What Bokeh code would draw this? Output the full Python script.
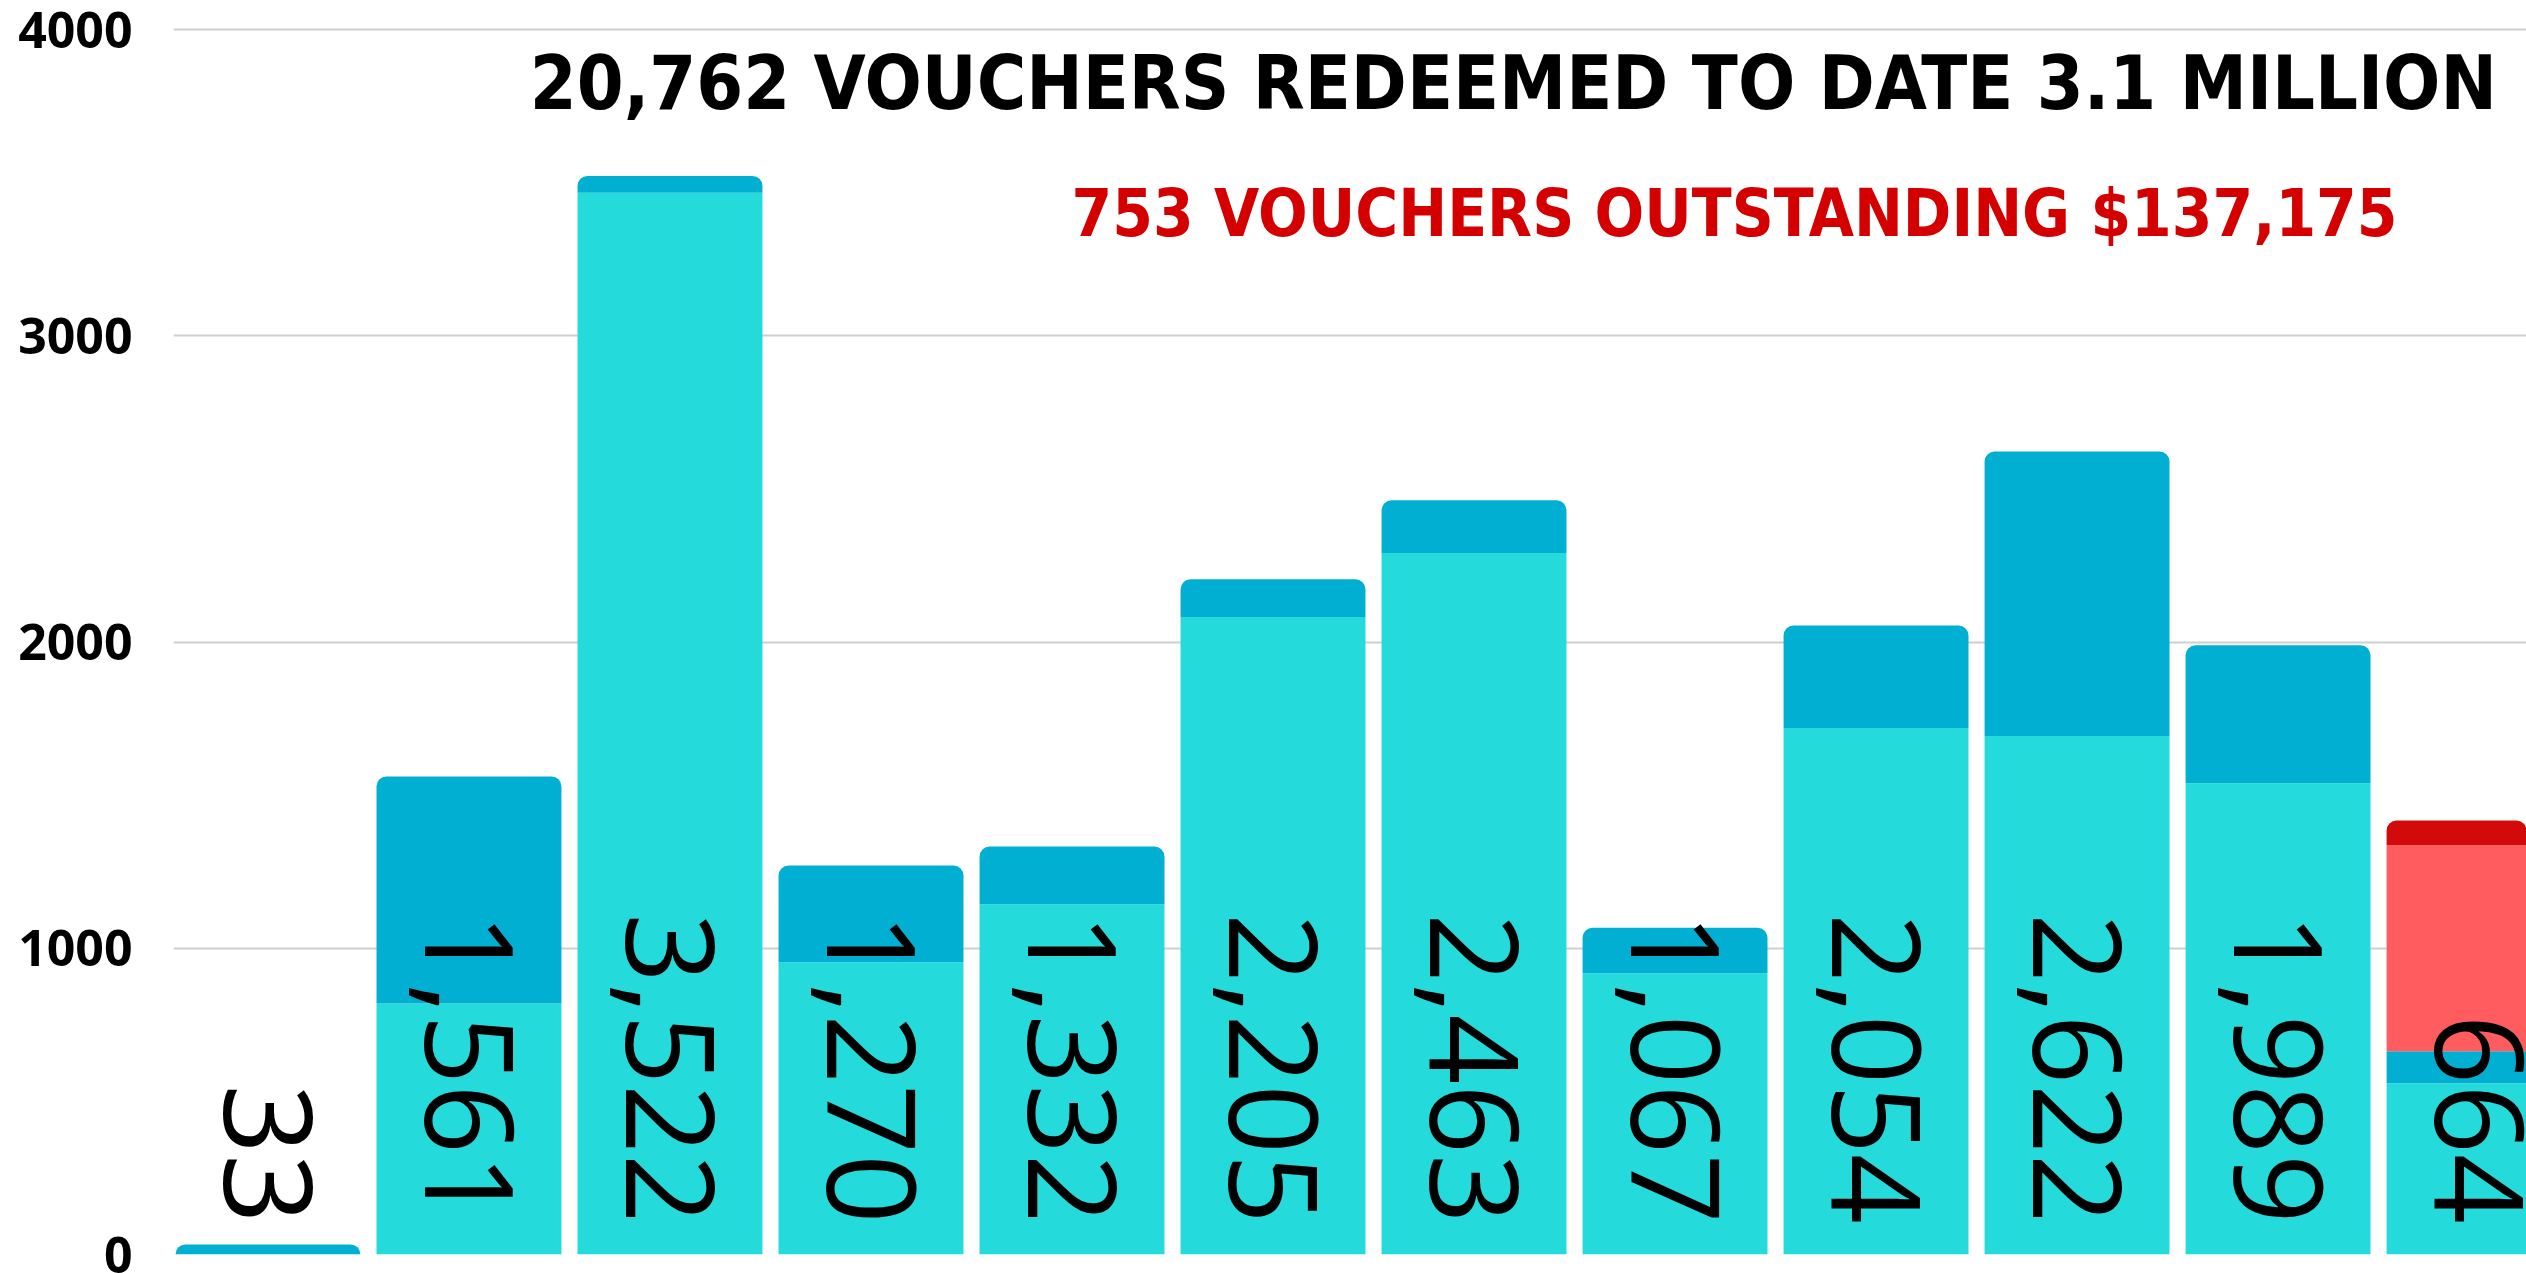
from bokeh.plotting import figure
from bokeh.models import ColumnDataSource, Label, FixedTicker
from bokeh.core.properties import value
from bokeh.embed import file_html
from bokeh.resources import INLINE

# ---- data ----
totals = [33, 1561, 3522, 1270, 1332, 2205, 2463, 1067, 2054, 2622, 1989, 664]
lower_part = [0, 820, 3467, 954, 1144, 2082, 2291, 918, 1719, 1693, 1539, 559]
outstanding = [0, 0, 0, 0, 0, 0, 0, 0, 0, 0, 0, 753]
outstanding_cap = [0, 0, 0, 0, 0, 0, 0, 0, 0, 0, 0, 80]
y_ticks = [0, 1000, 2000, 3000, 4000]
title_text = "20,762 VOUCHERS REDEEMED  TO DATE 3.1 MILLION"
subtitle_text = "753 VOUCHERS OUTSTANDING $137,175"

n = len(totals)
xs = list(range(n))

CYAN = "#25dada"
BLUE = "#00afd1"
LRED = "#ff5c60"
DRED = "#d20a0a"

p = figure(width=2526, height=1273, output_backend="svg", toolbar_location=None,
           x_range=(-0.47, 11.236), y_range=(0, 4094.7),
           x_axis_location=None, min_border_left=173, min_border_right=0,
           min_border_top=0, min_border_bottom=19)
p.outline_line_color = None
p.background_fill_color = "white"
p.xgrid.grid_line_color = None
p.ygrid.grid_line_color = "#cfcfcf"
p.ygrid.grid_line_width = 2

ax = p.yaxis[0]
ax.ticker = FixedTicker(ticks=y_ticks)
ax.axis_line_color = None
ax.major_tick_line_color = None
ax.minor_tick_line_color = None
ax.major_tick_out = 0
ax.major_tick_in = 0
ax.major_label_standoff = 41
ax.major_label_text_font = "Open Sans"
ax.major_label_text_font_style = "bold"
ax.major_label_text_font_size = "50px"
ax.major_label_text_color = "black"

W = 0.92

# light cyan lower segments
src_low = ColumnDataSource(dict(x=xs, top=lower_part))
p.vbar(x="x", top="top", bottom=0, width=W, source=src_low,
       fill_color=CYAN, line_color=None)

# darker blue upper segments (rounded when they are the top of the bar)
top_idx = [i for i in xs if outstanding[i] == 0]
mid_idx = [i for i in xs if outstanding[i] > 0]
src_up = ColumnDataSource(dict(x=[xs[i] for i in top_idx],
                               bottom=[lower_part[i] for i in top_idx],
                               top=[totals[i] for i in top_idx]))
p.vbar(x="x", top="top", bottom="bottom", width=W, source=src_up,
       fill_color=BLUE, line_color=None, border_radius=(10, 10, 0, 0))
src_mid = ColumnDataSource(dict(x=[xs[i] for i in mid_idx],
                                bottom=[lower_part[i] for i in mid_idx],
                                top=[totals[i] for i in mid_idx]))
p.vbar(x="x", top="top", bottom="bottom", width=W, source=src_mid,
       fill_color=BLUE, line_color=None)

# outstanding (red) segments
src_red = ColumnDataSource(dict(x=[xs[i] for i in mid_idx],
                                bottom=[totals[i] for i in mid_idx],
                                top=[totals[i] + outstanding[i] - outstanding_cap[i] for i in mid_idx]))
p.vbar(x="x", top="top", bottom="bottom", width=W, source=src_red,
       fill_color=LRED, line_color=None)
src_cap = ColumnDataSource(dict(x=[xs[i] for i in mid_idx],
                                bottom=[totals[i] + outstanding[i] - outstanding_cap[i] for i in mid_idx],
                                top=[totals[i] + outstanding[i] for i in mid_idx]))
p.vbar(x="x", top="top", bottom="bottom", width=W, source=src_cap,
       fill_color=DRED, line_color=None, border_radius=(10, 10, 0, 0))

# rotated value labels
src_lbl = ColumnDataSource(dict(x=xs, y=[100] * n, text=[f"{v:,}" for v in totals]))
p.text(x="x", y="y", text="text", source=src_lbl, angle=-1.5707963267948966,
       text_align="right", text_baseline="middle", text_color="black",
       text_font=value("Open Sans"), text_font_size="122px")

# headline texts
p.add_layout(Label(x=6.254, y=3824, text=title_text, text_align="center",
                   text_baseline="alphabetic", text_font="DejaVu Sans Condensed",
                   text_font_style="bold", text_font_size="75px", text_color="black"))
p.add_layout(Label(x=7.296, y=3400, text=subtitle_text, text_align="center",
                   text_baseline="alphabetic", text_font="DejaVu Sans Condensed",
                   text_font_style="bold", text_font_size="65px", text_color="#d40000"))

open("out.html", "w").write(file_html(p, INLINE))
